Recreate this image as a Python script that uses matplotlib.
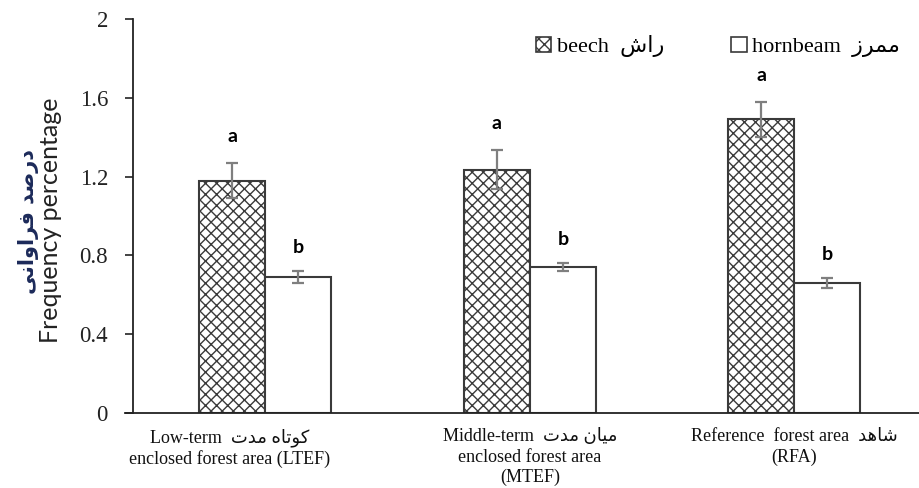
import numpy as np
import matplotlib
matplotlib.use('Agg')
import matplotlib.pyplot as plt
import matplotlib.transforms as mtransforms
from matplotlib.patches import Patch

# Persian strings are stored in visual order using Arabic presentation forms,
# because matplotlib does no Arabic shaping or bidi.
FA_BEECH = '\uFEB5\uFE8D\uFEAD'                     # راش
FA_HORNBEAM = '\uFEAF\uFEAE\uFEE4\uFEE3'             # ممرز
FA_YLABEL = '\uFBFD\uFEE7\uFE8D\uFEED\uFE8D\uFEAE\uFED3 \uFEAA\uFEBB\uFEAD\uFEA9'  # درصد فراوانی
FA_SHORT = '\uFE95\uFEAA\uFEE3 \uFEE9\uFE8E\uFE97\uFEEE\uFB90'   # کوتاه مدت
FA_MIDDLE = '\uFE95\uFEAA\uFEE3 \uFEE5\uFE8E\uFBFF\uFEE3'        # میان مدت
FA_CONTROL = '\uFEAA\uFEEB\uFE8E\uFEB7'                          # شاهد

categories = [
    'Low-term  ' + FA_SHORT + '\nenclosed forest area (LTEF)',
    'Middle-term  ' + FA_MIDDLE + '\nenclosed forest area\n(MTEF)',
    'Reference  forest area  ' + FA_CONTROL + '\n(RFA)',
]
beech = [1.18, 1.235, 1.49]
beech_err = [0.09, 0.10, 0.09]
hornbeam = [0.69, 0.74, 0.66]
hornbeam_err = [0.03, 0.02, 0.025]
beech_letters = ['a', 'a', 'a']
hornbeam_letters = ['b', 'b', 'b']

plt.rcParams['hatch.linewidth'] = 1.0
serif = ['Liberation Serif', 'DejaVu Sans']

fig = plt.figure(figsize=(9.2, 4.88), dpi=100)
ax = fig.add_axes([133 / 920, 75 / 488, 787 / 920, 394 / 488])

x = np.arange(len(categories))
w = 0.25
edge = '#3a3a3a'
ax.bar(x - w / 2, beech, w, facecolor='white', edgecolor=edge, hatch='xxx', linewidth=1.5, zorder=2)
ax.bar(x + w / 2, hornbeam, w, facecolor='white', edgecolor=edge, linewidth=1.5, zorder=2)
ax.errorbar(x - w / 2, beech, yerr=beech_err, fmt='none', ecolor='#7f7f7f', elinewidth=1.6, capsize=4.5, capthick=1.6, zorder=3)
ax.errorbar(x + w / 2, hornbeam, yerr=hornbeam_err, fmt='none', ecolor='#7f7f7f', elinewidth=1.6, capsize=4.5, capthick=1.6, zorder=3)

for xi, v, e, t in zip(x - w / 2, beech, beech_err, beech_letters):
    ax.text(xi, v + e + 0.135, t, ha='center', va='center', fontsize=14, fontweight='bold', family='Lato')
for xi, v, e, t in zip(x + w / 2, hornbeam, hornbeam_err, hornbeam_letters):
    ax.text(xi, v + e + 0.12, t, ha='center', va='center', fontsize=14, fontweight='bold', family='Lato')

ax.set_xlim(-0.5, 2.475)
ax.set_ylim(0, 2)
ax.set_yticks([0, 0.4, 0.8, 1.2, 1.6, 2])
ax.set_yticklabels(['0', '0.4', '0.8', '1.2', '1.6', '2'], family='Liberation Serif', fontsize=16.5, color='#222222')
ax.tick_params(axis='y', direction='out', length=6, width=1.2, color='#222222', pad=12)
ax.set_xticks(x)
ax.set_xticklabels(categories, family=serif, fontsize=13, color='#111111', linespacing=1.25)
ax.tick_params(axis='x', length=0, pad=11)
# first category label sits a little left of its group in the original
lab0 = ax.get_xticklabels()[0]
lab0.set_transform(lab0.get_transform() + mtransforms.ScaledTranslation(-0.36, 0, fig.dpi_scale_trans))

for s in ['top', 'right']:
    ax.spines[s].set_visible(False)
ax.spines['left'].set_color('#222222')
ax.spines['left'].set_linewidth(1.3)
ax.spines['bottom'].set_color('#222222')
ax.spines['bottom'].set_linewidth(1.3)
ax.spines['bottom'].set_bounds(-0.53, 2.475)

fig.text(29 / 920, 1 - 222 / 488, FA_YLABEL, rotation=90, ha='center', va='center',
         fontsize=15, fontweight='bold', color='#1c2a5a', family='DejaVu Sans')
fig.text(51 / 920, 1 - 220 / 488, 'Frequency percentage', rotation=90, ha='center', va='center',
         fontsize=18, color='#222222', family='Lato')

handles = [Patch(facecolor='white', edgecolor=edge, hatch='xxx', linewidth=1.2),
           Patch(facecolor='white', edgecolor=edge, linewidth=1.2)]
labels = ['beech  ' + FA_BEECH, 'hornbeam  ' + FA_HORNBEAM]
ax.legend(handles, labels, loc='upper right', bbox_to_anchor=(1.0, 1.01), ncol=2, frameon=False,
          handlelength=0.7, handleheight=0.7, handletextpad=0.25, columnspacing=3.0,
          prop={'family': serif, 'size': 16})

fig.savefig('out.png', dpi=100)
